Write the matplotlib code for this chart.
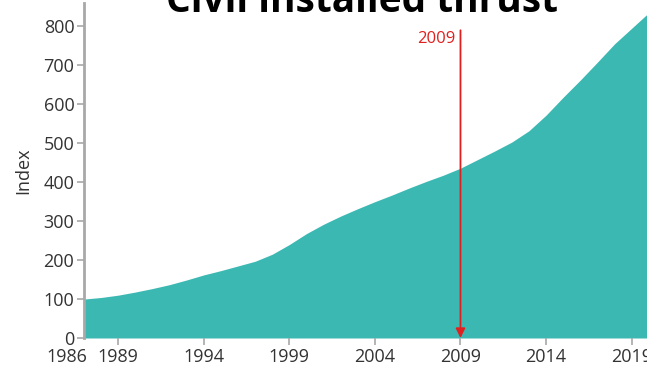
import matplotlib
matplotlib.use("Agg")
import matplotlib.pyplot as plt

# index of civil installed thrust (base = 100)
years = [1987, 1988, 1989, 1990, 1991, 1992, 1993, 1994, 1995, 1996, 1997,
         1998, 1999, 2000, 2001, 2002, 2003, 2004, 2005, 2006, 2007, 2008,
         2009, 2010, 2011, 2012, 2013, 2014, 2015, 2016, 2017, 2018, 2019, 2020]
index = [100, 104, 110, 118, 127, 137, 149, 162, 173, 185, 197,
         215, 240, 268, 292, 313, 332, 350, 367, 385, 402, 418,
         436, 458, 480, 503, 532, 572, 618, 662, 708, 755, 795, 835]

tick_years = [1989, 1994, 1999, 2004, 2009, 2014, 2019]
first_label = 1986
y_ticks = [0, 100, 200, 300, 400, 500, 600, 700, 800]
marker_year = 2009
marker_top = 790

TEAL = "#3cb8b3"
RED = "#e0201f"
GREY = "#a8a8a8"
TEXT = "#333333"

plt.rcParams["font.family"] = ["Open Sans", "DejaVu Sans"]

fig = plt.figure(figsize=(6.47, 3.69), dpi=100)
ax = fig.add_axes([84 / 647, 31 / 369, 1 - 84 / 647, 335 / 369])

ax.fill_between(years, 0, index, color=TEAL, lw=0)
ax.set_xlim(1987, 2019.9)
ax.set_ylim(0, 860)

ax.set_xticks(tick_years)
ax.set_yticks(y_ticks)
ax.tick_params(colors=GREY, labelcolor=TEXT, labelsize=13, length=5, width=1.2, pad=2)

for side in ("top", "right", "bottom"):
    ax.spines[side].set_visible(False)
ax.spines["left"].set_color(GREY)
ax.spines["left"].set_linewidth(2)

# base year label sits just left of the axis, on the same line as the ticks
ax.annotate(str(first_label), xy=(first_label, 0), xycoords=("data", "axes fraction"),
            xytext=(0, -7), textcoords="offset points", ha="center", va="top",
            fontsize=13, color=TEXT, annotation_clip=False)

ax.set_ylabel("Index", fontsize=13, color=TEXT, labelpad=8)

ax.annotate("", xy=(marker_year, 0), xytext=(marker_year, marker_top),
            arrowprops=dict(arrowstyle="-|>", color=RED, lw=1.3, mutation_scale=14,
                            shrinkA=0, shrinkB=0))
ax.text(marker_year - 0.3, marker_top - 3, str(marker_year), color=RED,
        fontsize=12, ha="right", va="top")

fig.text(0.56, 1 - 12 / 369, "Civil installed thrust", fontsize=28, fontweight="bold",
         ha="center", va="baseline", color="black")

fig.savefig("out.png", dpi=100)
